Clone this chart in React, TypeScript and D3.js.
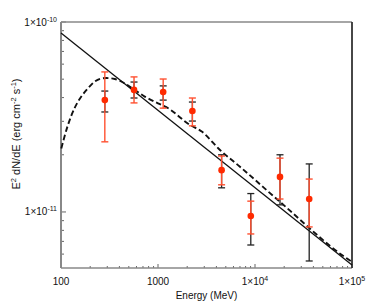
import React from "react";
import * as d3 from "d3";

// binned spectrum (MeV, erg cm^-2 s^-1)
const energies = [283, 566, 1131, 2262, 4525, 9051, 18102, 36204];
const fluxes = [3.88e-11, 4.39e-11, 4.28e-11, 3.4e-11, 1.66e-11, 9.53e-12, 1.53e-11, 1.17e-11];
const statLo = [2.34e-11, 3.75e-11, 3.52e-11, 2.84e-11, 1.39e-11, 7.66e-12, 1.17e-11, 8.34e-12];
const statHi = [5.46e-11, 5.14e-11, 5.01e-11, 3.98e-11, 1.97e-11, 1.14e-11, 1.92e-11, 1.49e-11];
const sysLo = [3.36e-11, 3.98e-11, 3.88e-11, 3.01e-11, 1.34e-11, 6.7e-12, 1.09e-11, 5.52e-12];
const sysHi = [4.33e-11, 4.83e-11, 4.61e-11, 3.79e-11, 2.0e-11, 1.25e-11, 2.0e-11, 1.79e-11];

// power-law fit
const plEnergies = [100, 100000];
const plValues = [8.75e-11, 5.26e-12];

// curved model (dashed)
const modelEnergies = [100.7, 118, 138, 162, 190, 222, 260, 293, 358, 454, 575, 730, 1000, 1219, 2138, 2825, 4355, 7000, 18110, 88100, 100000];
const modelValues = [2.16e-11, 2.87e-11, 3.52e-11, 4.05e-11, 4.48e-11, 4.85e-11, 5.04e-11, 5.07e-11, 5.01e-11, 4.75e-11, 4.39e-11, 4.05e-11, 3.73e-11, 3.56e-11, 2.87e-11, 2.65e-11, 2.12e-11, 1.73e-11, 1.13e-11, 5.7e-12, 5.46e-12];

const xMajor = [100, 1000, 10000, 100000];
const yMajor = [1e-11, 1e-10];

const W = 374;
const H = 306;
const FONT = "'Liberation Sans', Arial, sans-serif";

const x = d3.scaleLog().domain([100, 1e5]).range([61, 352]);
const y = d3.scaleLog().domain([5.07e-12, 1e-10]).range([268, 22]);

const expLabel = (v: number) => Math.round(Math.log10(v));

export default function App() {
  const line = d3
    .line<[number, number]>()
    .x((d) => x(d[0]))
    .y((d) => y(d[1]));
  const curve = d3
    .line<[number, number]>()
    .x((d) => x(d[0]))
    .y((d) => y(d[1]))
    .curve(d3.curveMonotoneX);

  const plPath = line(plEnergies.map((e, i) => [e, plValues[i]]) as [number, number][]);
  const modelPath = curve(modelEnergies.map((e, i) => [e, modelValues[i]]) as [number, number][]);

  const [x0, x1] = x.range();
  const [yb, yt] = y.range();
  const cap = 3.5;

  return (
    <svg width={W} height={H} style={{ position: "absolute", left: 0, top: 0 }} fontFamily={FONT}>
      <rect width={W} height={H} fill="#fff" />

      {/* minor / major ticks */}
      {y.ticks().map((t, i) => {
        const major = yMajor.some((m) => Math.abs(m - t) / m < 1e-6);
        return <line key={"yt" + i} x1={x0} x2={x0 + (major ? 5 : 3)} y1={y(t)} y2={y(t)} stroke="#666" strokeWidth={1} />;
      })}
      {x.ticks().map((t, i) => {
        const major = xMajor.some((m) => Math.abs(m - t) / m < 1e-6);
        return <line key={"xt" + i} x1={x(t)} x2={x(t)} y1={yb} y2={yb - (major ? 4 : 2)} stroke="#666" strokeWidth={1} />;
      })}

      {/* frame */}
      <line x1={x0} x2={x1} y1={yt} y2={yt} stroke="#888" strokeWidth={1.6} />
      <line x1={x0} x2={x1} y1={yb} y2={yb} stroke="#888" strokeWidth={1.6} />
      <line x1={x0} x2={x0} y1={yt} y2={yb} stroke="#888" strokeWidth={2} />
      <line x1={x1} x2={x1} y1={yt} y2={yb} stroke="#333" strokeWidth={1.8} />

      {/* models */}
      <path d={plPath ?? ""} fill="none" stroke="#111" strokeWidth={1.3} />
      <path d={modelPath ?? ""} fill="none" stroke="#111" strokeWidth={1.9} strokeDasharray="5.5,3" />

      {/* error bars: outer (black) then red */}
      {energies.map((e, i) => {
        const cx = x(e);
        return (
          <g key={"p" + i}>
            <line x1={cx} x2={cx} y1={y(sysLo[i])} y2={y(sysHi[i])} stroke="#222" strokeWidth={1.3} />
            <line x1={cx - cap} x2={cx + cap} y1={y(sysLo[i])} y2={y(sysLo[i])} stroke="#222" strokeWidth={1.3} />
            <line x1={cx - cap} x2={cx + cap} y1={y(sysHi[i])} y2={y(sysHi[i])} stroke="#222" strokeWidth={1.3} />
            <line x1={cx} x2={cx} y1={y(statLo[i])} y2={y(statHi[i])} stroke="#ff5030" strokeWidth={1.4} />
            <line x1={cx - cap} x2={cx + cap} y1={y(statLo[i])} y2={y(statLo[i])} stroke="#ff5030" strokeWidth={1.4} />
            <line x1={cx - cap} x2={cx + cap} y1={y(statHi[i])} y2={y(statHi[i])} stroke="#ff5030" strokeWidth={1.4} />
            <circle cx={cx} cy={y(fluxes[i])} r={3.3} fill="#ff2a00" />
          </g>
        );
      })}

      {/* y tick labels */}
      {yMajor.map((t, i) => (
        <text key={"yl" + i} x={x0 - 4} y={y(t) + 3.5} fontSize={10} textAnchor="end" fill="#111">
          1×10
          <tspan fontSize={7} dy={-4}>{expLabel(t)}</tspan>
        </text>
      ))}

      {/* x tick labels */}
      {xMajor.map((t, i) => (
        <text key={"xl" + i} x={x(t)} y={yb + 17} fontSize={10} textAnchor="middle" fill="#111">
          {t < 10000 ? String(t) : "1×10"}
          {t >= 10000 && <tspan fontSize={7} dy={-4}>{expLabel(t)}</tspan>}
        </text>
      ))}

      {/* axis titles */}
      <text x={(x0 + x1) / 2} y={299} fontSize={10} textAnchor="middle" fill="#111">
        Energy (MeV)
      </text>
      <text transform={`translate(20,134) rotate(-90)`} fontSize={11} textAnchor="middle" fill="#111">
        E<tspan fontSize={7.5} dy={-4}>2</tspan>
        <tspan dy={4}> dN/dE (erg cm</tspan>
        <tspan fontSize={7.5} dy={-4}>-2</tspan>
        <tspan dy={4}> s</tspan>
        <tspan fontSize={7.5} dy={-4}>-1</tspan>
        <tspan dy={4}>)</tspan>
      </text>
    </svg>
  );
}
